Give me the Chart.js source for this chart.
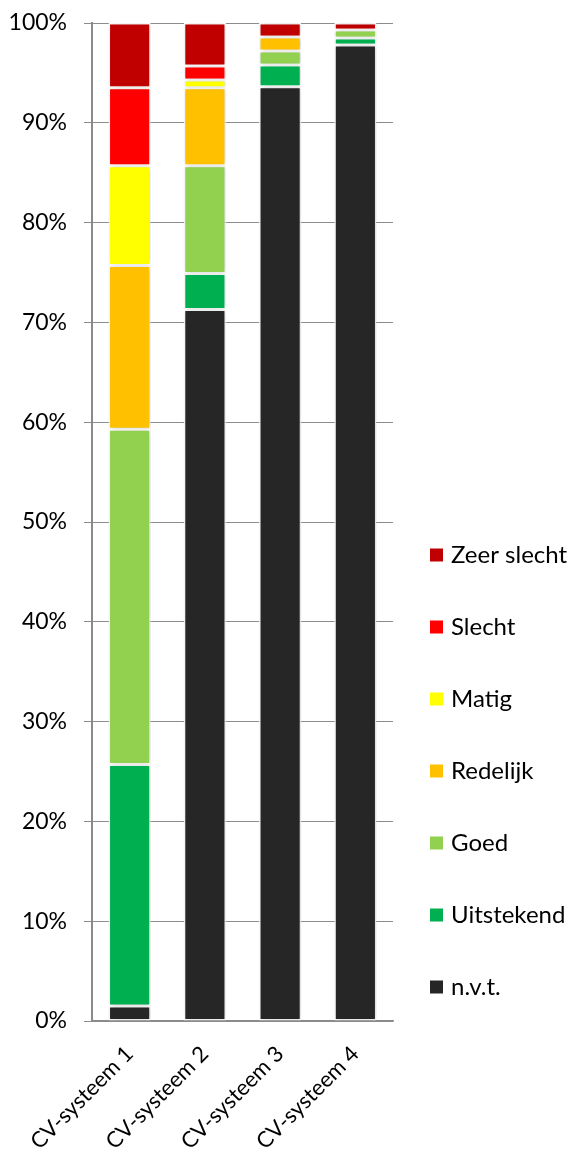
<!DOCTYPE html>
<html>
<head>
<meta charset="utf-8">
<script src="https://cdn.jsdelivr.net/npm/chart.js@4.4.1/dist/chart.umd.min.js"></script>
<style>
html,body{margin:0;padding:0;background:#fff;}
#wrap{position:relative;width:569px;height:1156px;}
</style>
</head>
<body>
<div id="wrap"><canvas id="c" width="569" height="1156"></canvas></div>
<script>
const categories = ['CV-systeem 1', 'CV-systeem 2', 'CV-systeem 3', 'CV-systeem 4'];
const nvt        = [1.5, 71.3, 93.6, 97.8];
const uitstekend = [24.2, 3.6, 2.2, 0.7];
const goed       = [33.6, 10.8, 1.4, 0.8];
const redelijk   = [16.4, 7.8, 1.4, 0];
const matig      = [10.0, 0.8, 0, 0];
const slecht     = [7.8, 1.4, 0, 0];
const zeerSlecht = [6.5, 4.3, 1.4, 0.7];
const yTicks = [0, 10, 20, 30, 40, 50, 60, 70, 80, 90, 100];

const FONT = 'Lato';
const seriesDefs = [
  ['n.v.t.', nvt, '#262626'],
  ['Uitstekend', uitstekend, '#00B050'],
  ['Goed', goed, '#92D050'],
  ['Redelijk', redelijk, '#FFC000'],
  ['Matig', matig, '#FFFF00'],
  ['Slecht', slecht, '#FF0000'],
  ['Zeer slecht', zeerSlecht, '#C00000']
];

const datasets = seriesDefs.map(([label, data, color]) => ({
  label, data,
  backgroundColor: color,
  borderColor: '#ffffff',
  borderWidth: 1.5,
  borderSkipped: false,
  categoryPercentage: 1,
  barPercentage: 0.56
}));

const shadowPlugin = {
  id: 'shadow',
  beforeDatasetsDraw(chart) {
    const ctx = chart.ctx;
    ctx.save();
    ctx.shadowColor = 'rgba(0,0,0,0.22)';
    ctx.shadowBlur = 5;
    ctx.shadowOffsetX = 1;
    ctx.shadowOffsetY = 0;
  },
  afterDatasetsDraw(chart) {
    chart.ctx.restore();
  }
};

const legendPlugin = {
  id: 'sideLegend',
  afterDraw(chart) {
    const ctx = chart.ctx;
    ctx.save();
    ctx.font = '24px ' + FONT;
    ctx.textBaseline = 'middle';
    ctx.textAlign = 'left';
    const n = chart.data.datasets.length;
    for (let i = 0; i < n; i++) {
      const ds = chart.data.datasets[n - 1 - i];
      const cy = 555 + i * 72;
      ctx.fillStyle = ds.backgroundColor;
      ctx.fillRect(430, cy - 6.5, 13, 13);
      ctx.fillStyle = '#000';
      ctx.fillText(ds.label, 451, cy);
    }
    ctx.restore();
  }
};

new Chart(document.getElementById('c'), {
  type: 'bar',
  data: { labels: categories, datasets },
  options: {
    responsive: false,
    animation: false,
    layout: { padding: { top: 23, right: 176, left: 0, bottom: 0 } },
    plugins: { legend: { display: false }, tooltip: { enabled: false } },
    scales: {
      x: {
        stacked: true,
        grid: { display: false, drawTicks: false },
        border: { display: true, color: '#8a8a8a', width: 1.5 },
        ticks: {
          color: '#000', font: { family: FONT, size: 22 },
          minRotation: 45, maxRotation: 45, padding: 20, autoSkip: false
        },
        afterFit(s) { s.height = 135; s.paddingLeft = 0; s.paddingRight = 0; }
      },
      y: {
        stacked: true,
        min: 0, max: 100,
        afterBuildTicks(s) { s.ticks = yTicks.map(v => ({ value: v })); },
        grid: { color: '#8c8c8c', lineWidth: 1, tickLength: 8, drawTicks: true },
        border: { display: true, color: '#8a8a8a', width: 2 },
        ticks: {
          color: '#000', font: { family: FONT, size: 23 }, padding: 17,
          callback: v => v + '%'
        },
        afterFit(s) { s.width = 92; s.paddingTop = 0; s.paddingBottom = 0; }
      }
    }
  },
  plugins: [shadowPlugin, legendPlugin]
});
</script>
</body>
</html>
